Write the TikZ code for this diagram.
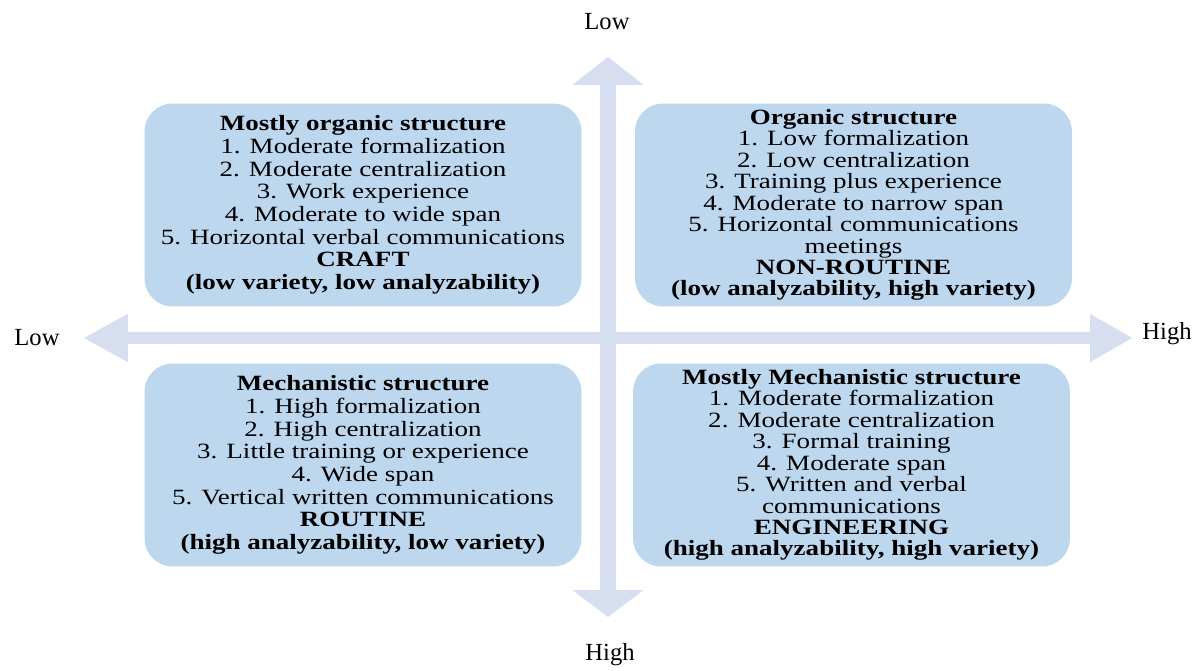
\documentclass[tikz,border=0pt]{standalone}
\usepackage{fontspec}
\setmainfont{Liberation Serif}
\newfontfamily\quadfont[FakeStretch=1.24]{Liberation Serif}
\usetikzlibrary{arrows.meta}

\definecolor{quadblue}{RGB}{189,215,238}
\definecolor{axisblue}{RGB}{214,222,240}

\tikzset{
    quad/.style={fill=quadblue, rounded corners=0.56cm, align=center, inner sep=0pt,
        minimum width=8.74cm, minimum height=4.06cm,
        font=\quadfont\fontsize{12.4}{12.9}\selectfont},
    tightquad/.style={quad, font=\quadfont\fontsize{12.4}{12.2}\selectfont},
    axislabel/.style={font=\fontsize{14}{16}\selectfont},
}

\begin{document}
\begin{tikzpicture}[x=0.02cm, y=-0.02cm]

        \useasboundingbox (0, 0) rectangle (1200, 671);

        \coordinate (west) at (83, 338);
        \coordinate (east) at (1133, 338);
        \coordinate (north) at (608, 57);
        \coordinate (south) at (608, 617);

        \draw [axisblue, line width=0.24cm, {Triangle[width=0.9cm, length=0.9cm]}-{Triangle[width=0.9cm, length=0.86cm]}] (west) -- (east);
        \draw [axisblue, line width=0.32cm, {Triangle[width=1.4cm, length=0.56cm]}-{Triangle[width=1.4cm, length=0.54cm]}] (north) -- (south);

        \node [axislabel] (lowtop) at (607, 22) {Low};
        \node [axislabel] (highbottom) at (610, 655) {High};
        \node [axislabel] (lowleft) at (37, 338) {Low};
        \node [axislabel] (highright) at (1167, 334) {High};

        \node [quad] (craft) at (363, 205) {\textbf{Mostly organic structure}\\
            1. Moderate formalization\\
            2. Moderate centralization\\
            3. Work experience\\
            4. Moderate to wide span\\
            5. Horizontal verbal communications\\
            \textbf{CRAFT}\\
            \textbf{(low variety, low analyzability)}};
        \node [tightquad] (nonroutine) at (853.5, 205) {\textbf{Organic structure}\\
            1. Low formalization\\
            2. Low centralization\\
            3. Training plus experience\\
            4. Moderate to narrow span\\
            5. Horizontal communications\\
            meetings\\
            \textbf{NON-ROUTINE}\\
            \textbf{(low analyzability, high variety)}};
        \node [quad] (routine) at (363, 465) {\textbf{Mechanistic structure}\\
            1. High formalization\\
            2. High centralization\\
            3. Little training or experience\\
            4. Wide span\\
            5. Vertical written communications\\
            \textbf{ROUTINE}\\
            \textbf{(high analyzability, low variety)}};
        \node [tightquad] (engineering) at (851.5, 465) {\textbf{Mostly Mechanistic structure}\\
            1. Moderate formalization\\
            2. Moderate centralization\\
            3. Formal training\\
            4. Moderate span\\
            5. Written and verbal\\
            communications\\
            \textbf{ENGINEERING}\\
            \textbf{(high analyzability, high variety)}};

\end{tikzpicture}
\end{document}
